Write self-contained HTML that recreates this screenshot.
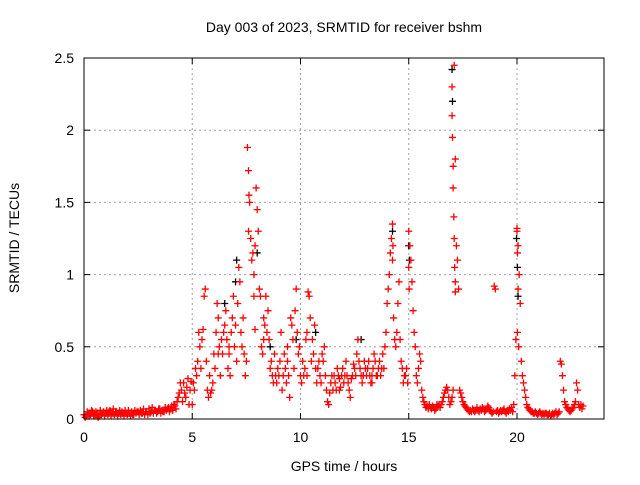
<!DOCTYPE html>
<html><head><meta charset="utf-8"><style>
body{margin:0;background:#fff;width:640px;height:480px;overflow:hidden;font-family:"Liberation Sans",sans-serif}
svg text{font-family:"Liberation Sans",sans-serif;font-size:14px;fill:#000}
</style></head><body>
<svg id="chart" width="640" height="480" xmlns="http://www.w3.org/2000/svg">
<text x="344" y="32" text-anchor="middle">Day 003 of 2023, SRMTID for receiver bshm</text>
<text x="344" y="471" text-anchor="middle">GPS time / hours</text>
<text x="19" y="238" text-anchor="middle" transform="rotate(-90 19 238)">SRMTID / TECUs</text>
<g id="grid"></g><g id="ticks"></g><g id="black"></g><g id="red"></g>
<rect x="84" y="58" width="520" height="361" fill="none" stroke="#000" stroke-width="1"/>
</svg>
<script>
const xTicks=[0,5,10,15,20];
const yTicks=[0,0.5,1,1.5,2,2.5];
const yTickLabels=["0","0.5","1","1.5","2","2.5"];
const baseStart=0, baseStep=0.1;
const baseVals=[0.03,0.02,0.04,0.03,0.05,0.03,0.04,0.02,0.03,0.05,0.04,0.03,0.06,0.04,0.03,0.05,0.04,0.03,0.04,0.06,0.03,0.04,0.05,0.03,0.04,0.05,0.06,0.04,0.03,0.05,0.07,0.05,0.04,0.06,0.05,0.07,0.06,0.05,0.06,0.08,0.07,0.06,0.09,0.12,0.18,0.2,0.25,0.15,0.28,0.2];
const base2Vals=[0.01,0.05,0.02,0.06,0.02,0.05,0.01,0.06,0.04,0.02,0.06,0.05,0.02,0.07,0.05,0.02,0.06,0.05,0.02,0.04,0.06,0.02,0.03,0.06,0.05,0.03,0.04,0.07,0.05,0.03,0.04,0.08,0.06,0.04,0.07,0.04,0.05,0.08,0.07,0.05,0.09,0.1,0.07,0.15,0.25,0.12,0.18,0.22,0.1,0.26];
const mainStart=5.0, mainStep=0.05;
const mainVals=[0.1,0.25,0.2,0.35,0.3,0.4,0.6,0.5,0.35,0.55,0.62,
0.85,0.9,0.4,0.2,0.15,0.3,0.18,0.2,0.25,0.45,
0.35,0.6,0.8,0.7,0.5,0.3,0.55,0.45,0.6,0.65,
0.75,0.55,0.35,0.45,0.3,0.6,0.7,0.85,0.5,0.65,
0.4,0.8,1.05,0.95,0.6,0.5,0.7,0.45,0.3,0.4,
1.88,1.72,1.5,1.25,1.1,1.15,0.85,0.62,1.6,1.45,
1.3,0.9,0.85,0.5,0.45,0.7,0.65,0.85,0.6,0.75,
0.55,0.35,0.4,0.3,0.25,0.45,0.3,0.25,0.35,0.3,
0.4,0.6,0.2,0.3,0.45,0.35,0.25,0.5,0.3,0.15,
0.7,0.65,0.55,0.35,0.75,0.9,0.6,0.45,0.5,0.3,
0.25,0.4,0.3,0.35,0.55,0.6,0.88,0.85,0.7,0.4,
0.55,0.45,0.65,0.35,0.25,0.35,0.4,0.3,0.25,0.45,
0.4,0.5,0.3,0.2,0.12,0.1,0.18,0.25,0.3,0.2,
0.3,0.25,0.2,0.35,0.3,0.28,0.22,0.3,0.35,0.25,
0.3,0.4,0.3,0.25,0.2,0.15,0.28,0.3,0.38,0.35,
0.3,0.45,0.55,0.4,0.35,0.3,0.25,0.3,0.4,0.35,
0.3,0.35,0.4,0.3,0.25,0.3,0.35,0.45,0.4,0.3,
0.3,0.35,0.4,0.3,0.35,0.45,
0.35,0.5,0.6,0.8,0.9,1.0,1.15,1.25,1.35,0.7,
0.55,0.5,0.6,0.8,0.95,0.55,0.4,0.35,0.25,0.3,
0.3,0.35,0.25,
1.3,1.2,1.1,0.95,0.75,0.6,0.5,0.3,0.25,0.35,
0.45,0.4,0.2,0.15,0.12,0.1,0.08,0.09,0.07,0.1,
0.08,0.07,0.09,0.08,0.06,0.07,0.1,
0.09,0.1,0.08,0.1,0.12,0.15,0.18,0.2,0.22,0.2,
0.15,0.1,0.12,0.15,0.2,2.45,1.8,1.2,1.1,0.9,
0.2,0.18,0.15,0.12,0.1,0.09,0.08,0.07,0.06,0.05,
0.06,0.05,0.07,0.06,0.05,0.06,0.08,0.06,0.05,0.07,
0.06,0.08,0.07,0.05,0.06,0.07,0.09,0.08,0.06,0.05,
0.04,0.05,0.92,0.9,0.05,0.06,0.04,0.05,0.06,0.05,
0.06,0.07,0.05,0.04,0.06,0.05,0.07,0.06,0.08,0.05,
0.1,0.3,0.55,1.3,1.2,1.0,0.8,0.4,0.3,0.25,
0.2,0.15,0.1,0.08,0.07,0.06,0.05,0.05,0.04,0.04,
0.05,0.04,0.03,0.04,0.05,0.04,0.03,0.04,0.03,0.04,0.04,0.03,
0.03,0.04,0.02,0.03,0.04,0.03,0.04,0.05,0.03,0.04,
0.05,0.4,0.38,0.3,0.2,0.12,0.1,0.08,0.07,0.06,
0.05,0.06,0.07,0.08,0.1,0.12,0.25,0.2,0.1,0.08,
0.1,0.07,0.09];
const extraTimes=[17.0,17.0,17.02,17.05,17.05,17.08,17.1,17.12,17.15,17.15,20.0,20.02,20.02,20.05,20.08,7.6,7.62,7.9,7.85,15.0,15.02,14.27,14.25,6.2,6.7,8.3,9.4,10.3,11.8,12.9,13.3];
const extraVals=[2.3,2.1,1.95,1.75,1.6,1.4,1.25,1.05,0.95,0.88,1.32,1.15,0.6,0.9,0.5,1.3,1.55,1.2,1.0,1.05,0.9,1.2,1.1,0.45,0.5,0.55,0.4,0.3,0.2,0.3,0.25];
const blackTimes=[7.05,7.0,8.6,9.8,10.7,15.0,15.03,17.0,17.02,19.98,20.02,20.05,12.8,14.25,6.5,8.0];
const blackVals=[1.1,0.95,0.5,0.55,0.6,1.2,1.1,2.42,2.2,1.25,1.05,0.85,0.55,1.3,0.8,1.15];

const X=t=>84+t*21.65, Y=v=>419-v*144.4;
const NS="http://www.w3.org/2000/svg";
const grid=document.getElementById('grid'), ticks=document.getElementById('ticks');
function mk(tag,attrs,parent){const e=document.createElementNS(NS,tag);for(const k in attrs)e.setAttribute(k,attrs[k]);parent.appendChild(e);return e;}
xTicks.forEach(t=>{
  if(t>0){const g=mk('line',{x1:X(t),x2:X(t),y1:58,y2:419,stroke:'#a0a0a0','stroke-dasharray':'2,3'},grid);
  
  }
  mk('line',{x1:X(t),x2:X(t),y1:419,y2:413,stroke:'#000'},ticks);
  mk('line',{x1:X(t),x2:X(t),y1:58,y2:64,stroke:'#000'},ticks);
  const l=mk('text',{x:X(t),y:442,'text-anchor':'middle'},ticks);l.textContent=t;
  
  
});
yTicks.forEach((v,i)=>{
  if(v>0&&v<2.5){const g=mk('line',{x1:84,x2:604,y1:Y(v),y2:Y(v),stroke:'#a0a0a0','stroke-dasharray':'2,3'},grid);
  
  }
  mk('line',{x1:84,x2:90,y1:Y(v),y2:Y(v),stroke:'#000'},ticks);
  mk('line',{x1:604,x2:598,y1:Y(v),y2:Y(v),stroke:'#000'},ticks);
  const l=mk('text',{x:74,y:Y(v)+5,'text-anchor':'end'},ticks);l.textContent=yTickLabels[i];
  
  
});
function plus(g,t,v,c,name){
  const x=X(t),y=Y(v);
  const p=mk('path',{d:`M${x-3.5} ${y}H${x+3.5}M${x} ${y-3.5}V${y+3.5}`,stroke:c,'stroke-width':1.3,fill:'none'},g);
  
  
}
const bg=document.getElementById('black'), rg=document.getElementById('red');
blackTimes.forEach((t,i)=>plus(bg,t,blackVals[i],'#000','black-point'));
baseVals.forEach((v,i)=>plus(rg,baseStart+i*baseStep,v,'#ff0000','red-point'));
base2Vals.forEach((v,i)=>plus(rg,baseStart+0.05+i*baseStep,v,'#ff0000','red-point'));
mainVals.forEach((v,i)=>plus(rg,mainStart+i*mainStep,v,'#ff0000','red-point'));
extraTimes.forEach((t,i)=>plus(rg,t,extraVals[i],'#ff0000','red-point'));
</script>
</body></html>
